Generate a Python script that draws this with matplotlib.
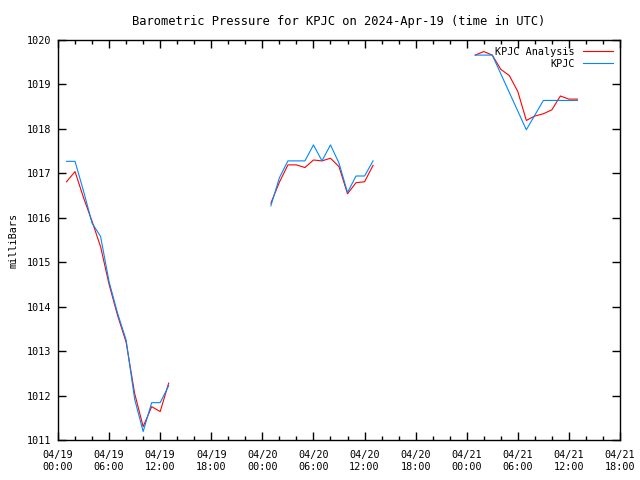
import numpy as np
import matplotlib
matplotlib.use("Agg")
import matplotlib.pyplot as plt
from matplotlib.ticker import MultipleLocator

# hours since 04/19 00:00 UTC, NaN breaks the line between gaps
hours = [1, 2, 3, 4, 5, 6, 7, 8, 9, 10, 11, 12, 13, np.nan,
         25, 26, 27, 28, 29, 30, 31, 32, 33, 34, 35, 36, 37, np.nan,
         49, 50, 51, 52, 53, 54, 55, 56, 57, 58, 59, 60, 61]

analysis = [1016.81, 1017.04, 1016.45, 1015.92, 1015.35, 1014.50, 1013.80,
            1013.20, 1012.05, 1011.30, 1011.75, 1011.64, 1012.28, np.nan,
            1016.33, 1016.80, 1017.19, 1017.19, 1017.13, 1017.30, 1017.28,
            1017.34, 1017.15, 1016.54, 1016.79, 1016.81, 1017.18, np.nan,
            1019.66, 1019.74, 1019.66, 1019.34, 1019.20, 1018.84, 1018.19,
            1018.29, 1018.34, 1018.43, 1018.74, 1018.67, 1018.67]

kpjc = [1017.27, 1017.27, 1016.60, 1015.88, 1015.58, 1014.56, 1013.85,
        1013.25, 1011.92, 1011.19, 1011.84, 1011.84, 1012.22, np.nan,
        1016.27, 1016.90, 1017.28, 1017.28, 1017.28, 1017.64, 1017.28,
        1017.64, 1017.23, 1016.57, 1016.94, 1016.94, 1017.28, np.nan,
        1019.66, 1019.66, 1019.66, 1019.24, 1018.82, 1018.40, 1017.98,
        1018.31, 1018.64, 1018.64, 1018.64, 1018.64, 1018.64]

tick_hours = list(range(0, 67, 6))
tick_labels = ["04/19\n00:00", "04/19\n06:00", "04/19\n12:00", "04/19\n18:00",
               "04/20\n00:00", "04/20\n06:00", "04/20\n12:00", "04/20\n18:00",
               "04/21\n00:00", "04/21\n06:00", "04/21\n12:00", "04/21\n18:00"]

plt.rcParams['font.family'] = ['DejaVu Sans Mono']
plt.rcParams['font.size'] = 7.3

fig = plt.figure(figsize=(6.4, 4.8), dpi=100)
ax = fig.add_axes([58/640, 40/480, 562/640, 400/480])

ax.plot(hours, analysis, '-', color='#ff0000', lw=0.8, label="KPJC Analysis")
ax.plot(hours, kpjc, '-', color='#0088ff', lw=0.8, label="KPJC")

ax.set_xlim(0, 66)
ax.set_ylim(1011, 1020)
ax.set_xticks(tick_hours)
ax.set_xticklabels(tick_labels, linespacing=1.3)
ax.xaxis.set_minor_locator(MultipleLocator(2))
ax.yaxis.set_major_locator(MultipleLocator(1))
ax.yaxis.set_major_formatter(matplotlib.ticker.FormatStrFormatter('%d'))
ax.tick_params(which='both', direction='in', top=True, right=True)
ax.tick_params(which='major', length=6, width=1)
ax.tick_params(which='minor', length=3, width=1)
ax.tick_params(axis='x', pad=7)
ax.tick_params(axis='y', pad=5)
for s in ax.spines.values():
    s.set_linewidth(1)

ax.set_title("Barometric Pressure for KPJC on 2024-Apr-19 (time in UTC)", pad=11)
ax.set_ylabel("milliBars", labelpad=5.5)
ax.legend(loc='upper right', frameon=False, markerfirst=False,
          handlelength=3.0, borderaxespad=0.25, labelspacing=0.2)

fig.savefig("out.png", dpi=100)
